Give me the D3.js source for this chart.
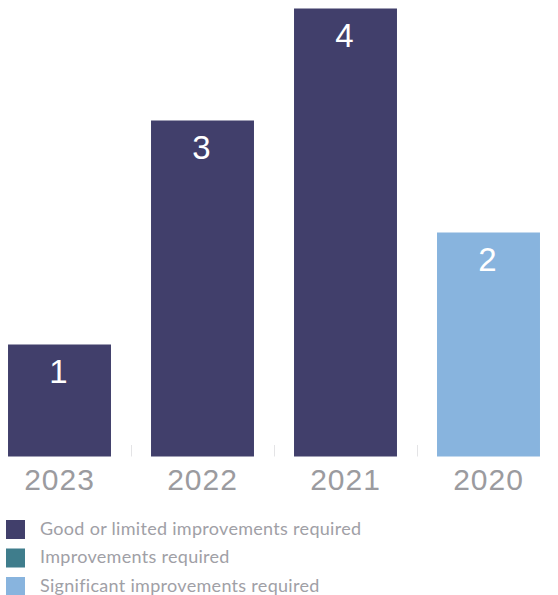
<!DOCTYPE html>
<html>
<head>
<meta charset="utf-8">
<script src="https://cdn.jsdelivr.net/npm/d3@7"></script>
<style>
  html, body { margin: 0; padding: 0; background: #ffffff; }
  svg { display: block; }
</style>
</head>
<body>
<svg id="chart" width="558" height="595"></svg>
<script>
// Inspection outcomes by year
const years = ["2023", "2022", "2021", "2020"];
const counts = [1, 3, 4, 2];
const ratings = ["Good or limited", "Good or limited", "Good or limited", "Significant"];

const legendKeys = ["Good or limited", "Improvements", "Significant"];
const legendLabels = [
  "Good or limited improvements required",
  "Improvements required",
  "Significant improvements required"
];
const legendColors = ["#413f6b", "#3f7d8c", "#88b4de"];

const svg = d3.select("#chart");

const color = d3.scaleOrdinal().domain(legendKeys).range(legendColors);

const x = d3.scaleBand()
  .domain(years)
  .range([-12, 560])
  .paddingInner(0.28)
  .paddingOuter(0.14);

const y = d3.scaleLinear()
  .domain([0, 4])
  .range([456.5, 8.5]);

const rows = years.map((yr, i) => ({ year: yr, value: counts[i], rating: ratings[i] }));

// separator ticks between bars
const bounds = years.slice(1).map(yr => x(yr) - x.step() * x.paddingInner() / 2);
svg.append("g").selectAll("line")
  .data(bounds)
  .join("line")
  .attr("x1", d => Math.round(d) + 0.5)
  .attr("x2", d => Math.round(d) + 0.5)
  .attr("y1", 445)
  .attr("y2", 456.5)
  .attr("stroke", "#e4e4e6")
  .attr("stroke-width", 1);

// bars
svg.append("g").selectAll("rect")
  .data(rows)
  .join("rect")
  .attr("x", d => x(d.year))
  .attr("y", d => y(d.value))
  .attr("width", x.bandwidth())
  .attr("height", d => y(0) - y(d.value))
  .attr("fill", d => color(d.rating));

// value labels inside bars
svg.append("g").selectAll("text")
  .data(rows)
  .join("text")
  .attr("x", d => x(d.year) + x.bandwidth() / 2 - 1)
  .attr("y", d => y(d.value) + 38)
  .attr("text-anchor", "middle")
  .attr("fill", "#ffffff")
  .attr("font-family", "'Liberation Sans', Arial, sans-serif")
  .attr("font-size", 33)
  .text(d => d.value);

// year labels
const xAxis = d3.axisBottom(x).tickSize(0).tickPadding(0);
const ax = svg.append("g")
  .attr("transform", "translate(0,456.5)")
  .call(xAxis);
ax.select(".domain").remove();
ax.selectAll("text")
  .attr("dy", 0)
  .attr("y", 33)
  .attr("fill", "#9b9b9f")
  .attr("font-family", "'Liberation Sans', Arial, sans-serif")
  .attr("font-size", 30)
  .attr("letter-spacing", "1px");

// legend
const legend = svg.append("g")
  .selectAll("g")
  .data(legendKeys)
  .join("g")
  .attr("transform", (d, i) => `translate(6,${520 + i * 28.5})`);

legend.append("rect")
  .attr("width", 19)
  .attr("height", 19)
  .attr("fill", d => color(d));

legend.append("text")
  .attr("x", 34)
  .attr("y", 14.5)
  .attr("fill", "#a0a0a6")
  .attr("font-family", "Lato, 'Open Sans', sans-serif")
  .attr("font-size", 18)
  .attr("letter-spacing", "0.3px")
  .text((d, i) => legendLabels[i]);
</script>
</body>
</html>
